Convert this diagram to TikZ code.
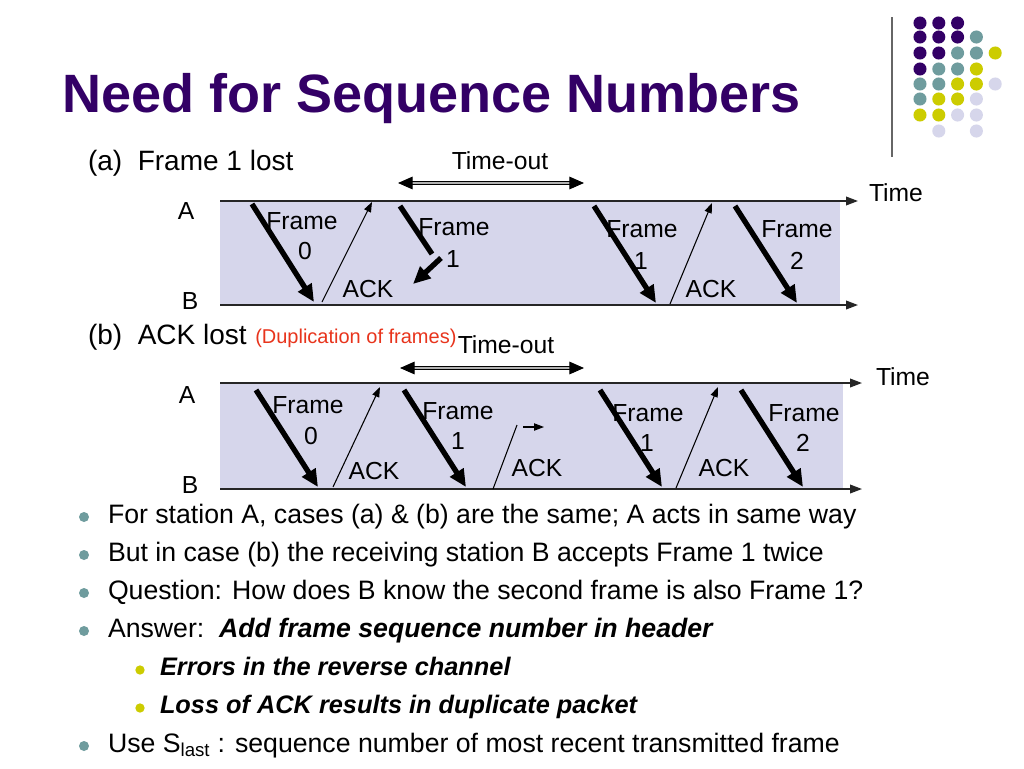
\documentclass[tikz,border=0pt]{standalone}
\usepackage{fontspec}
\setmainfont{Liberation Sans}
\usetikzlibrary{arrows.meta}
\definecolor{titlepurple}{RGB}{51,0,102}
\definecolor{dotteal}{RGB}{111,156,158}
\definecolor{dotyellow}{RGB}{204,204,0}
\definecolor{dotlav}{RGB}{214,214,235}
\definecolor{band}{RGB}{214,214,235}
\definecolor{dupred}{RGB}{232,52,28}
\begin{document}
\begin{tikzpicture}[x=0.75pt,y=-0.75pt,
  txt/.style={inner sep=0pt,outer sep=0pt,font=\fontsize{18.5}{22}\selectfont},
  lbl/.style={txt,anchor=base},
  head/.style={txt,anchor=base west,font=\fontsize{21}{25}\selectfont},
  bul/.style={inner sep=0pt,outer sep=0pt,anchor=base west,font=\fontsize{20}{24}\selectfont},
  subbul/.style={inner sep=0pt,outer sep=0pt,anchor=base west,font=\fontsize{19}{23}\selectfont\bfseries\itshape},
  thickarr/.style={line width=4pt,-{Triangle[length=13pt,width=11.5pt]}},
  thickline/.style={line width=4pt},
  thinarr/.style={line width=0.8pt,-{Triangle[length=7.5pt,width=5.5pt]}},
  thinline/.style={line width=0.8pt},
  timeline/.style={line width=1.2pt,draw=black!85,-{Triangle[length=9pt,width=6.5pt]}},
  toarr/.style={line width=0.8pt,double=black!30,double distance=1.4pt,
     {Triangle[length=11pt,width=9.5pt]}-{Triangle[length=11pt,width=9.5pt]}},
  pdot/.style={circle,inner sep=0pt,minimum size=9.8pt}
]
\path[use as bounding box,fill=white] (0,0) rectangle (1024,768);

% decoration: vertical line and dots
\coordinate (vl1) at (892,17);
\coordinate (vl2) at (892,157);
\draw[line width=1.1pt,black!60] (vl1) -- (vl2);
\foreach \r/\y/\list in {0/23/{1,1,1,0,0},1/37/{1,1,1,2,0},2/53/{1,1,2,2,3},3/69/{1,2,2,3,0},
                         4/84/{2,2,3,3,4},5/99/{2,3,3,4,0},6/115/{3,3,4,4,0},7/131/{0,4,0,4,0}}{
  \foreach \c [count=\i from 0] in \list {
    \ifnum\c=1 \node[pdot,fill=titlepurple] (d\r\i) at (920+18.8*\i,\y) {};\fi
    \ifnum\c=2 \node[pdot,fill=dotteal] (d\r\i) at (920+18.8*\i,\y) {};\fi
    \ifnum\c=3 \node[pdot,fill=dotyellow] (d\r\i) at (920+18.8*\i,\y) {};\fi
    \ifnum\c=4 \node[pdot,fill=dotlav] (d\r\i) at (920+18.8*\i,\y) {};\fi
  }
}

% title
\node[inner sep=0pt,anchor=base west,font=\fontsize{40.5}{44}\selectfont\bfseries,text=titlepurple] (title) at (62,112) {Need for Sequence Numbers};

% ===== diagram (a) =====
\node[head] (ha) at (88,170) {(a)\ \ Frame 1 lost};
\node[lbl] (toa) at (500,169) {Time-out};
\coordinate (toaL) at (398,183);
\coordinate (toaR) at (584,183);
\draw[toarr] (toaL) -- (toaR);

\fill[band] (220,201) rectangle (840,305);
\coordinate (aA1) at (220,201); \coordinate (aA2) at (858,201);
\coordinate (aB1) at (220,305); \coordinate (aB2) at (858,305);
\draw[timeline] (aA1) -- (aA2);
\draw[timeline] (aB1) -- (aB2);
\node[lbl] (aA) at (186,219) {A};
\node[lbl] (aB) at (190,309) {B};
\node[lbl] (aTime) at (896,201) {Time};

\coordinate (a1s) at (252,204); \coordinate (a1e) at (314,302);
\coordinate (a2s) at (322,302); \coordinate (a2e) at (372,202);
\coordinate (a3s) at (400,206); \coordinate (a3e) at (432,254);
\coordinate (a4s) at (441,258); \coordinate (a4e) at (413,284);
\coordinate (a5s) at (594,206); \coordinate (a5e) at (656,303);
\coordinate (a6s) at (670,304); \coordinate (a6e) at (712,203);
\coordinate (a7s) at (735,206); \coordinate (a7e) at (797,303);
\draw[thickarr] (a1s) -- (a1e);
\draw[thinarr] (a2s) -- (a2e);
\draw[thickline] (a3s) -- (a3e);
\draw[thickarr] (a4s) -- (a4e);
\draw[thickarr] (a5s) -- (a5e);
\draw[thinarr] (a6s) -- (a6e);
\draw[thickarr] (a7s) -- (a7e);

\node[lbl] (af0) at (302,229) {Frame};
\node[lbl] (af0n) at (305,259) {0};
\node[lbl] (aack0) at (368,297) {ACK};
\node[lbl] (af1) at (454,235) {Frame};
\node[lbl] (af1n) at (453,267) {1};
\node[lbl] (af1r) at (642,237) {Frame};
\node[lbl] (af1rn) at (641,269) {1};
\node[lbl] (aack1) at (711,297) {ACK};
\node[lbl] (af2) at (797,237) {Frame};
\node[lbl] (af2n) at (797,269) {2};

% ===== diagram (b) =====
\node[head] (hb) at (88,344) {(b)\ \ ACK lost};
\node[inner sep=0pt,anchor=base west,font=\fontsize{15}{18}\selectfont,text=dupred] (dup) at (255,343) {(Duplication of frames)};
\node[lbl] (tob) at (506,353) {Time-out};
\coordinate (tobL) at (400,368);
\coordinate (tobR) at (584,368);
\draw[toarr] (tobL) -- (tobR);

\fill[band] (220,383) rectangle (843,489);
\coordinate (bA1) at (220,383); \coordinate (bA2) at (862,383);
\coordinate (bB1) at (220,489); \coordinate (bB2) at (862,489);
\draw[timeline] (bA1) -- (bA2);
\draw[timeline] (bB1) -- (bB2);
\node[lbl] (bA) at (187,403) {A};
\node[lbl] (bB) at (190,493) {B};
\node[lbl] (bTime) at (903,385) {Time};

\coordinate (b1s) at (256,390); \coordinate (b1e) at (318,487);
\coordinate (b2s) at (333,487); \coordinate (b2e) at (380,387);
\coordinate (b3s) at (404,390); \coordinate (b3e) at (466,487);
\coordinate (b4s) at (493,489); \coordinate (b4e) at (517,425);
\coordinate (b5s) at (523,427); \coordinate (b5e) at (544,427);
\coordinate (b6s) at (600,390); \coordinate (b6e) at (662,487);
\coordinate (b7s) at (676,488); \coordinate (b7e) at (718,387);
\coordinate (b8s) at (741,390); \coordinate (b8e) at (803,487);
\draw[thickarr] (b1s) -- (b1e);
\draw[thinarr] (b2s) -- (b2e);
\draw[thickarr] (b3s) -- (b3e);
\draw[thinline] (b4s) -- (b4e);
\draw[thinarr] (b5s) -- (b5e);
\draw[thickarr] (b6s) -- (b6e);
\draw[thinarr] (b7s) -- (b7e);
\draw[thickarr] (b8s) -- (b8e);

\node[lbl] (bf0) at (308,413) {Frame};
\node[lbl] (bf0n) at (311,444) {0};
\node[lbl] (back0) at (374,479) {ACK};
\node[lbl] (bf1) at (458,419) {Frame};
\node[lbl] (bf1n) at (458,449) {1};
\node[lbl] (back1) at (537,476) {ACK};
\node[lbl] (bf1r) at (648,421) {Frame};
\node[lbl] (bf1rn) at (647,451) {1};
\node[lbl] (back2) at (724,476) {ACK};
\node[lbl] (bf2) at (804,421) {Frame};
\node[lbl] (bf2n) at (803,451) {2};

% ===== bullets =====
\foreach \n/\y in {1/523,2/561,3/599,4/637,5/752}{
  \node[circle,inner sep=0pt,minimum size=7.5pt,fill=dotteal] (bd\n) at (84,\y-6) {};
}
\foreach \n/\y in {1/675,2/713}{
  \node[circle,inner sep=0pt,minimum size=7pt,fill=dotyellow] (sd\n) at (140,\y-5) {};
}
\node[bul] (t1) at (108,523) {For station A, cases (a) \& (b) are the same; A acts in same way};
\node[bul] (t2) at (108,561) {But in case (b) the receiving station B accepts Frame 1 twice};
\node[bul] (t3) at (108,599) {Question: How does B know the second frame is also Frame 1?};
\node[bul] (t4) at (108,637) {Answer:\ \ \textbf{\textit{Add frame sequence number in header}}};
\node[subbul] (s1) at (160,675) {Errors in the reverse channel};
\node[subbul] (s2) at (160,713) {Loss of ACK results in duplicate packet};
\node[bul] (t5) at (108,752) {Use S\textsubscript{last} : sequence number of most recent transmitted frame};
\end{tikzpicture}
\end{document}
